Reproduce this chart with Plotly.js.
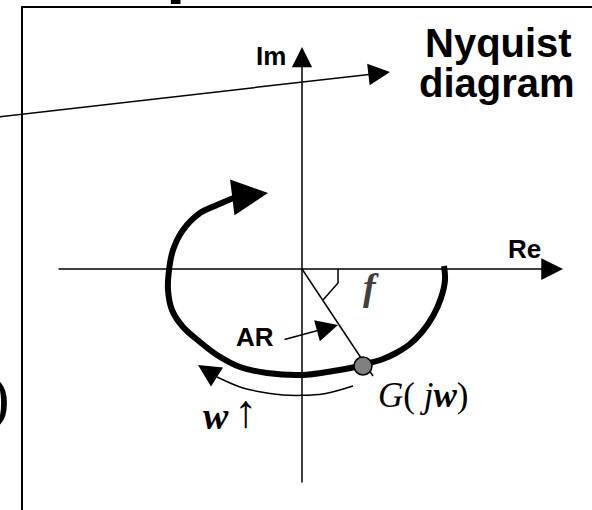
<!DOCTYPE html>
<html>
<head>
<meta charset="utf-8">
<script src="https://cdn.plot.ly/plotly-3.0.1.min.js"></script>
<style>html,body{margin:0;padding:0;background:#fff;}#chart{width:592px;height:510px;}</style>
</head>
<body>
<div id="chart"></div>
<script>
// Nyquist locus G(jw) (diagram units = pixels)
const locusX = [444, 445, 441, 433, 422, 410, 396, 383, 370, 355, 333, 302, 267, 240, 217, 200, 183, 172, 168, 169, 173, 183, 200, 217, 236];
const locusY = [266, 280, 298, 316, 332, 344, 353, 359, 363, 367, 371, 375, 373, 367, 355, 342, 327, 310, 290, 270, 250, 230, 213, 205, 197];
const locusTip = [268, 193];

// omega-increasing arc below the locus
const omegaArcX = [353, 323, 283, 243, 217];
const omegaArcY = [386, 394, 395, 388, 377];
const omegaTip = [198, 365];

// phase line from origin through G(jw)
const phaseLineX = [302, 373];
const phaseLineY = [269, 376];
const angleMarkX = [338, 338, 323];
const angleMarkY = [269, 283, 300];

// the point G(jw)
const pointX = [363];
const pointY = [366];

// axes: [tailX, tailY, tipX, tipY]
const imAxis = [302, 484, 302, 47];
const reAxis = [57, 269, 563, 269];
const pointerArrow = [-2, 117, 390, 72];
const arArrow = [283, 340, 338, 325];

// labels
const labelTexts = {
  title1: 'Nyquist', title2: 'diagram', im: 'Im', re: 'Re', ar: 'AR',
  phi: '<b><i>f</i></b>', g: '<i>G</i>( <i>j</i><b><i>w</i></b>)', w: '<b><i>w</i></b>', up: '↑'
};

const sans = 'Liberation Sans, Arial, sans-serif';
const serif = 'Liberation Serif, Times New Roman, serif';

const traces = [
  {x: locusX, y: locusY, mode: 'lines', line: {color: '#000', width: 6, shape: 'spline', smoothing: 1}, hoverinfo: 'skip'},
  {x: omegaArcX, y: omegaArcY, mode: 'lines', line: {color: '#000', width: 1.5, shape: 'spline', smoothing: 0.8}, hoverinfo: 'skip'},
  {x: phaseLineX, y: phaseLineY, mode: 'lines', line: {color: '#000', width: 1.5}, hoverinfo: 'skip'},
  {x: angleMarkX, y: angleMarkY, mode: 'lines', line: {color: '#000', width: 1.5}, hoverinfo: 'skip'},
  {x: pointX, y: pointY, mode: 'markers', marker: {size: 18, color: '#808080', line: {color: '#000', width: 1.5}}, hoverinfo: 'skip'}
];

function arrow(a, w, size, head) {
  return {x: a[2], y: a[3], ax: a[0], ay: a[1], xref: 'x', yref: 'y', axref: 'x', ayref: 'y',
    text: '', showarrow: true, arrowhead: head || 2, arrowwidth: w, arrowsize: size, arrowcolor: '#000', standoff: 0};
}
function label(t, x, y, size, fam, color) {
  return {x: x, y: y, xref: 'x', yref: 'y', text: t, showarrow: false, xanchor: 'center', yanchor: 'middle',
    font: {family: fam, size: size, color: color || '#000'}};
}

const annotations = [
  arrow(imAxis, 1.5, 2.7),
  arrow(reAxis, 1.5, 2.9),
  arrow(pointerArrow, 1.5, 2.9),
  arrow(arArrow, 1.5, 2.9),
  arrow([locusX[locusX.length - 1], locusY[locusY.length - 1], locusTip[0], locusTip[1]], 6, 1.2),
  arrow([omegaArcX[omegaArcX.length - 1], omegaArcY[omegaArcY.length - 1], omegaTip[0], omegaTip[1]], 1.5, 3),
  label('<b>' + labelTexts.title1 + '</b>', 498, 43, 40, sans),
  label('<b>' + labelTexts.title2 + '</b>', 496.5, 83, 40, sans),
  label('<b>' + labelTexts.im + '</b>', 271, 56, 26, sans),
  label('<b>' + labelTexts.re + '</b>', 524.5, 249, 26, sans),
  label('<b>' + labelTexts.ar + '</b>', 255, 337, 26, sans),
  label(labelTexts.phi, 371, 287, 38, serif, '#404040'),
  label(labelTexts.g, 422.5, 395, 35, serif),
  label(labelTexts.w, 215.5, 416, 38, serif),
  label(labelTexts.up, 245, 411, 46, serif),
  // fragments cut by the picture edges
  {x: 12 / 592, y: 1 - 397 / 510, xref: 'paper', yref: 'paper', text: ')', showarrow: false, xanchor: 'right', yanchor: 'middle',
    font: {family: serif, size: 62, color: '#000'}},
  {x: 187 / 592, y: 1 + 35 / 510, xref: 'paper', yref: 'paper', text: '<b>p</b>', showarrow: false, xanchor: 'center', yanchor: 'middle',
    font: {family: sans, size: 70, color: '#000'}}
];

const layout = {
  width: 592, height: 510,
  margin: {l: 0, r: 0, t: 0, b: 0, pad: 0},
  paper_bgcolor: '#fff', plot_bgcolor: '#fff',
  showlegend: false,
  xaxis: {range: [0, 592], visible: false, fixedrange: true},
  yaxis: {range: [510, 0], visible: false, fixedrange: true},
  shapes: [
    {type: 'rect', xref: 'x', yref: 'y', x0: 22, y0: 7, x1: 640, y1: 560, line: {color: '#000', width: 2}, layer: 'below'}
  ],
  annotations: annotations
};

Plotly.newPlot('chart', traces, layout, {staticPlot: true, displayModeBar: false});
</script>
</body>
</html>
